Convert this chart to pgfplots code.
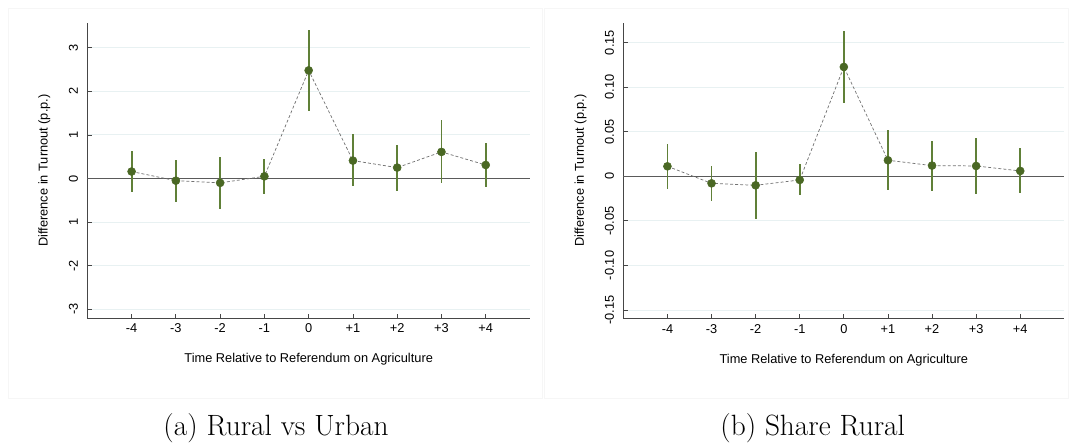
\documentclass[border=0pt]{standalone}
\usepackage{fontspec}
\usepackage{pgfplots}
\pgfplotsset{compat=1.18}
\usepackage{pgfplotstable}
\newfontfamily\arialf{Liberation Sans}
\definecolor{markc}{RGB}{74,104,36}
\definecolor{errc}{RGB}{96,128,56}
\definecolor{gridc}{RGB}{232,241,242}
\definecolor{zeroc}{RGB}{90,90,90}
\definecolor{axc}{RGB}{70,70,70}
\definecolor{framec}{RGB}{246,246,246}

\pgfplotstableread{
x y ep em
-4 0.16 0.48 0.48
-3 -0.05 0.48 0.50
-2 -0.10 0.60 0.60
-1 0.05 0.39 0.41
0 2.48 0.92 0.93
1 0.41 0.60 0.59
2 0.25 0.52 0.53
3 0.61 0.74 0.72
4 0.31 0.50 0.51
}\ruraldata

\pgfplotstableread{
x y ep em
-4 0.0112 0.0247 0.0254
-3 -0.0079 0.0195 0.0198
-2 -0.0101 0.0378 0.0381
-1 -0.0041 0.0176 0.0172
0 0.1227 0.0403 0.0408
1 0.0180 0.0336 0.0337
2 0.0120 0.0273 0.0285
3 0.0116 0.0310 0.0314
4 0.0060 0.0254 0.0247
}\sharedata

\pgfplotsset{
  panel/.style={
    scale only axis,
    anchor=south west,
    font=\arialf\fontsize{9.6}{11}\selectfont,
    xmin=-5, xmax=5,
    axis x line*=bottom, axis y line*=left,
    axis line style={color=axc, line width=0.6pt},
    tick style={color=axc, line width=0.6pt},
    major tick length=3.2pt,
    xtick={-4,-3,-2,-1,0,1,2,3,4},
    xticklabels={-4,-3,-2,-1,0,+1,+2,+3,+4},
    xticklabel style={yshift=-1pt},
    yticklabel style={rotate=90, anchor=south},
    yticklabel shift=3.5pt,
    ymajorgrids, major grid style={color=gridc, line width=0.7pt},
    xlabel={Time Relative to Referendum on Agriculture},
    ylabel={Difference in Turnout (p.p.)},
    every axis x label/.style={at={(axis description cs:0.5,-0.141)}, anchor=center},
    every axis y label/.style={at={(axis description cs:-0.097,0.5)}, rotate=90, anchor=center},
    clip=false,
  },
  cis/.style={draw=none, mark=none, forget plot,
    error bars/.cd, y dir=both, y explicit, error mark=none,
    error bar style={draw=errc, line width=1.4pt}},
  pts/.style={only marks, mark=*, mark size=3pt, color=markc, mark options={fill=markc, draw=markc}},
  conn/.style={no marks, color=black!55, line width=0.55pt, dash pattern=on 2.2pt off 1.6pt},
}

\begin{document}
\begin{tikzpicture}
\useasboundingbox (0,0) rectangle (803.25pt,334.5pt);
\draw[framec, line width=0.6pt] (6pt,36pt) rectangle (406.5pt,328.5pt);
\draw[framec, line width=0.6pt] (408.5pt,36pt) rectangle (801pt,328.5pt);

\begin{axis}[panel, at={(65.5pt,96pt)}, width=332pt, height=221.25pt,
  ymin=-3.2, ymax=3.567,
  ytick={-3,-2,-1,0,1,2,3},
  yticklabels={-3,-2,1,0,1,2,3}]
  \addplot[color=zeroc, line width=0.9pt, no marks, forget plot] coordinates {(-5,0) (5,0)};
  \addplot[cis] table[x=x, y=y, y error plus=ep, y error minus=em] {\ruraldata};
  \addplot[pts] table[x=x, y=y] {\ruraldata};
  \addplot[conn] table[x=x, y=y] {\ruraldata};
\end{axis}

\begin{axis}[panel, at={(467.5pt,95.8pt)}, width=330.75pt, height=221.7pt,
  ymin=-0.1593, ymax=0.1724,
  ytick={-0.15,-0.10,-0.05,0,0.05,0.10,0.15},
  yticklabels={-0.15,-0.10,-0.05,0,0.05,0.10,0.15}]
  \addplot[color=zeroc, line width=0.9pt, no marks, forget plot] coordinates {(-5,0) (5,0)};
  \addplot[cis] table[x=x, y=y, y error plus=ep, y error minus=em] {\sharedata};
  \addplot[pts] table[x=x, y=y] {\sharedata};
  \addplot[conn] table[x=x, y=y] {\sharedata};
\end{axis}

\node[font=\fontsize{22}{26}\selectfont] at (207pt,13.5pt) {(a) Rural vs Urban};
\node[font=\fontsize{22}{26}\selectfont] at (609.5pt,13.5pt) {(b) Share Rural};
\end{tikzpicture}
\end{document}
